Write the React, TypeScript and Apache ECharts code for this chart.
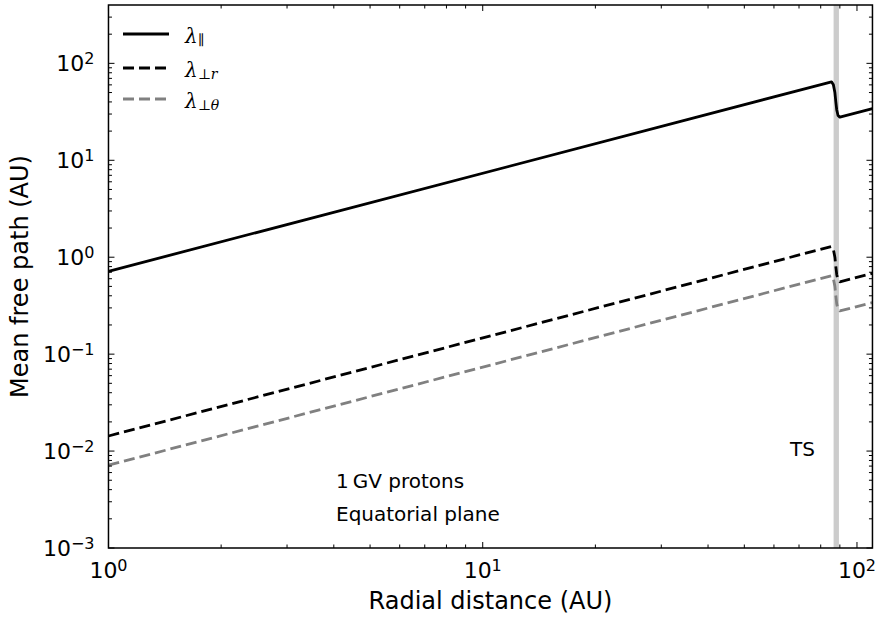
import { useEffect, useRef } from 'react';
import * as echarts from 'echarts';

// Radial distance (AU) sampled along the curves, with the termination-shock jump near 88 AU
const radius = [1, 85.5, 86.5, 87.3, 87.8, 88.3, 89.0, 90.0, 110];
// Mean free paths (AU) for 1 GV protons in the equatorial plane
const lambdaPar = [0.715, 64.5, 60, 50, 40, 33, 29, 27.9, 34.1];
const lambdaPerpR = [0.0143, 1.29, 1.2, 1.0, 0.8, 0.66, 0.58, 0.558, 0.682];
const lambdaPerpTheta = [0.00715, 0.645, 0.6, 0.5, 0.4, 0.33, 0.29, 0.279, 0.341];

// Termination shock marker (AU)
const shockBand = [86.6, 89.5];

// Axis limits
const xLimits = [1, 110];
const yLimits = [1e-3, 400];

// Tick positions
const xMajorTicks = [1, 10, 100];
const xMinorTicks = [2, 3, 4, 5, 6, 7, 8, 9, 20, 30, 40, 50, 60, 70, 80, 90];
const yMajorTicks = [1e-3, 1e-2, 1e-1, 1, 10, 100];
const yMinorTicks = [
  2e-3, 3e-3, 4e-3, 5e-3, 6e-3, 7e-3, 8e-3, 9e-3,
  2e-2, 3e-2, 4e-2, 5e-2, 6e-2, 7e-2, 8e-2, 9e-2,
  0.2, 0.3, 0.4, 0.5, 0.6, 0.7, 0.8, 0.9,
  2, 3, 4, 5, 6, 7, 8, 9,
  20, 30, 40, 50, 60, 70, 80, 90,
  200, 300,
];

const SANS = "'DejaVu Sans', 'Noto Sans', sans-serif";
const SERIF = "'DejaVu Serif', 'Liberation Serif', serif";
const MAJOR_LEN = 6;
const MINOR_LEN = 3.5;

const powerLabel = (v: number) => {
  const e = Math.log10(v);
  const r = Math.round(e);
  if (Math.abs(e - r) > 1e-6) return '';
  return `10{sup|${r < 0 ? '\u2212' + -r : r}}`;
};

const labelStyle = {
  color: '#000',
  fontFamily: SANS,
  fontSize: 22,
  lineHeight: 26,
  formatter: powerLabel,
  rich: {
    sup: { fontFamily: SANS, fontSize: 16, lineHeight: 11, verticalAlign: 'top', color: '#000' },
  },
};

const tickStyle = { stroke: '#000', lineWidth: 1 };

const xTickItems = [
  ...xMajorTicks.map((v) => [v, yLimits[0], 0]),
  ...xMinorTicks.map((v) => [v, yLimits[0], 1]),
];
const yTickItems = [
  ...yMajorTicks.map((v) => [xLimits[0], v, 0]),
  ...yMinorTicks.map((v) => [xLimits[0], v, 1]),
];

const renderXTick = (_p: any, api: any) => {
  const v = api.value(0);
  const len = api.value(2) ? MINOR_LEN : MAJOR_LEN;
  const b = api.coord([v, yLimits[0]]);
  const t = api.coord([v, yLimits[1]]);
  return {
    type: 'group',
    children: [
      { type: 'line', shape: { x1: b[0], y1: b[1], x2: b[0], y2: b[1] - len }, style: tickStyle },
      { type: 'line', shape: { x1: t[0], y1: t[1], x2: t[0], y2: t[1] + len }, style: tickStyle },
    ],
  };
};

const renderYTick = (_p: any, api: any) => {
  const v = api.value(1);
  const len = api.value(2) ? MINOR_LEN : MAJOR_LEN;
  const l = api.coord([xLimits[0], v]);
  const r = api.coord([xLimits[1], v]);
  return {
    type: 'group',
    children: [
      { type: 'line', shape: { x1: l[0], y1: l[1], x2: l[0] + len, y2: l[1] }, style: tickStyle },
      { type: 'line', shape: { x1: r[0], y1: r[1], x2: r[0] - len, y2: r[1] }, style: tickStyle },
    ],
  };
};

const renderBand = (_p: any, api: any) => {
  const a = api.coord([api.value(0), api.value(3)]);
  const b = api.coord([api.value(1), api.value(2)]);
  return {
    type: 'rect',
    shape: { x: a[0], y: a[1], width: b[0] - a[0], height: b[1] - a[1] },
    style: { fill: '#cccccc' },
  };
};

const toPairs = (ys: number[]) => radius.map((r, i) => [r, ys[i]]);

const legendRows = [
  { text: '{l|λ}{s|∥}', color: '#000', dash: null as number[] | null, y: 34 },
  { text: '{l|λ}{s|⊥}{si|r}', color: '#000', dash: [11, 5], y: 68 },
  { text: '{l|λ}{s|⊥}{si|θ}', color: '#808080', dash: [11, 5], y: 99 },
];

const legendRich = {
  l: { fontFamily: SERIF, fontStyle: 'italic', fontSize: 20, lineHeight: 22, fill: '#000' },
  s: { fontFamily: SERIF, fontSize: 14, lineHeight: 9, verticalAlign: 'bottom', fill: '#000' },
  si: { fontFamily: SERIF, fontStyle: 'italic', fontSize: 14, lineHeight: 9, verticalAlign: 'bottom', fill: '#000' },
};

export default function App() {
  const ref = useRef<HTMLDivElement>(null);

  useEffect(() => {
    if (!ref.current) return;
    const chart = echarts.init(ref.current, undefined, { renderer: 'svg' });

    const graphic: any[] = [];
    legendRows.forEach((row) => {
      graphic.push({
        type: 'line',
        shape: { x1: 123, y1: row.y, x2: 169, y2: row.y },
        style: { stroke: row.color, lineWidth: 2.8, lineDash: row.dash || undefined },
        silent: true,
      });
      graphic.push({
        type: 'text',
        x: 185,
        y: row.y + 2,
        style: { text: row.text, rich: legendRich, verticalAlign: 'middle', align: 'left' },
        silent: true,
      });
    });
    const notes = [
      { text: '1\u2009GV protons', x: 336, y: 481 },
      { text: 'Equatorial plane', x: 336, y: 514 },
      { text: 'TS', x: 790, y: 449 },
    ];
    notes.forEach((n) => {
      graphic.push({
        type: 'text',
        x: n.x,
        y: n.y,
        style: { text: n.text, fontFamily: SANS, fontSize: 20, fill: '#000', verticalAlign: 'middle', align: 'left' },
        silent: true,
      });
    });

    chart.setOption({
      animation: false,
      backgroundColor: '#fff',
      grid: {
        left: 105.5,
        right: 5,
        top: 5,
        bottom: 71,
        show: true,
        borderColor: '#000',
        borderWidth: 1.5,
        backgroundColor: 'transparent',
        z: 10,
      },
      xAxis: {
        type: 'log',
        logBase: 10,
        min: xLimits[0],
        max: xLimits[1],
        name: 'Radial distance (AU)',
        nameLocation: 'middle',
        nameGap: 41,
        nameTextStyle: { fontFamily: SANS, fontSize: 24, color: '#000' },
        axisLine: { show: false },
        axisTick: { show: false },
        splitLine: { show: false },
        axisLabel: { ...labelStyle, margin: 9 },
      },
      yAxis: {
        type: 'log',
        logBase: 10,
        min: yLimits[0],
        max: yLimits[1],
        name: 'Mean free path (AU)',
        nameLocation: 'middle',
        nameGap: 68,
        nameTextStyle: { fontFamily: SANS, fontSize: 24, color: '#000' },
        axisLine: { show: false },
        axisTick: { show: false },
        splitLine: { show: false },
        axisLabel: { ...labelStyle, margin: 14 },
      },
      series: [
        {
          type: 'custom',
          silent: true,
          z: 1,
          data: [[shockBand[0], shockBand[1], yLimits[0], yLimits[1]]],
          encode: { x: [0, 1], y: [2, 3] },
          renderItem: renderBand,
        },
        {
          type: 'line',
          name: 'lambda_par',
          data: toPairs(lambdaPar),
          showSymbol: false,
          symbol: 'none',
          silent: true,
          z: 3,
          lineStyle: { color: '#000', width: 2.8, join: 'round' },
        },
        {
          type: 'line',
          name: 'lambda_perp_r',
          data: toPairs(lambdaPerpR),
          showSymbol: false,
          symbol: 'none',
          silent: true,
          z: 3,
          lineStyle: { color: '#000', width: 2.8, type: [11, 5], join: 'round' },
        },
        {
          type: 'line',
          name: 'lambda_perp_theta',
          data: toPairs(lambdaPerpTheta),
          showSymbol: false,
          symbol: 'none',
          silent: true,
          z: 3,
          lineStyle: { color: '#808080', width: 2.8, type: [11, 5], join: 'round' },
        },
        {
          type: 'custom',
          silent: true,
          clip: false,
          z: 5,
          data: xTickItems,
          encode: { x: 0, y: 1 },
          renderItem: renderXTick,
        },
        {
          type: 'custom',
          silent: true,
          clip: false,
          z: 5,
          data: yTickItems,
          encode: { x: 0, y: 1 },
          renderItem: renderYTick,
        },
      ],
      graphic,
    });

    return () => chart.dispose();
  }, []);

  return (
    <div
      ref={ref}
      style={{ position: 'fixed', left: 0, top: 0, width: 879, height: 619, background: '#fff' }}
    />
  );
}
